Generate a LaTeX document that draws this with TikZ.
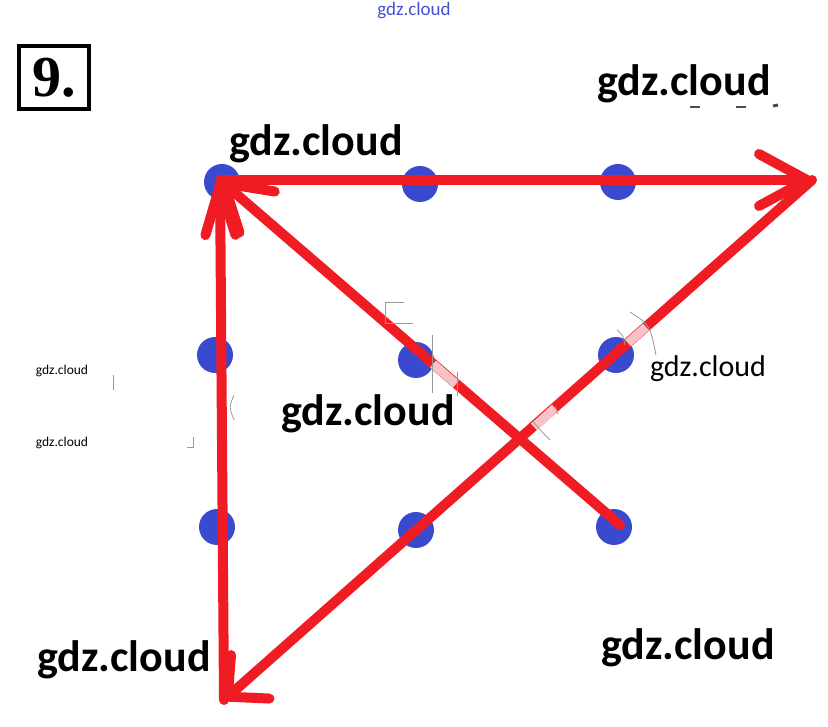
\documentclass[tikz,border=0pt]{standalone}
\usepackage{fontspec}
\newfontfamily\gdzfont{Carlito}
\newfontfamily\numfont{Liberation Serif}
\usetikzlibrary{arrows.meta}
\definecolor{pen}{RGB}{240,28,36}
\definecolor{palepen}{RGB}{246,196,200}
\definecolor{dotblue}{RGB}{58,74,206}
\definecolor{wmblue}{RGB}{70,80,210}
\tikzset{
  dot/.style={circle,fill=dotblue,draw=none,minimum size=36pt,inner sep=0pt},
  stroke/.style={draw=pen,line width=10pt,line cap=round,line join=round},
  barbR/.style={-{Straight Barb[length=48pt,width=52pt,round]}},
  barbBL/.style={-{Straight Barb[length=30pt,width=58pt,round]}},
  barbD/.style={-{Straight Barb[length=44pt,width=54pt,round]}},
  barbV/.style={-{Straight Barb[length=50pt,width=30pt,round]}},
  pale/.style={draw=palepen,line width=9pt},
  junk/.style={draw=gray!80,line width=0.8pt},
  speck/.style={draw=black!70,line width=1.5pt},
  bigmark/.style={font=\gdzfont\bfseries\fontsize{44}{48}\selectfont,inner sep=0pt},
  midmark/.style={font=\gdzfont\fontsize{30}{34}\selectfont,inner sep=0pt},
  smallmark/.style={font=\gdzfont\fontsize{13.5}{15}\selectfont,inner sep=0pt},
}
\begin{document}
\begin{tikzpicture}[x=1pt,y=-1pt]
\useasboundingbox[fill=white] (0,0) rectangle (828,727);
% number box
\node[draw,line width=4pt,minimum width=70pt,minimum height=63pt,inner sep=0pt,
      font=\numfont\bfseries\fontsize{58}{58}\selectfont] (num) at (54,78) {9.};
% dots
\node[dot] (d11) at (222,182) {};
\node[dot] (d12) at (420,184) {};
\node[dot] (d13) at (618,182) {};
\node[dot] (d21) at (215,355) {};
\node[dot] (d22) at (416,360) {};
\node[dot] (d23) at (616,355) {};
\node[dot] (d31) at (217,527) {};
\node[dot] (d32) at (416,530) {};
\node[dot] (d33) at (614,527) {};
% corner points
\coordinate (tl) at (220,180);
\coordinate (tr) at (812,180);
\coordinate (bl) at (224,700);
\coordinate (start) at (620,525);
% the four strokes
\draw[stroke,barbD] (start) -- (tl);
\draw[stroke,barbR] (tl) -- (tr);
\draw[stroke,barbBL] (tr) -- (bl);
\draw[stroke,barbV] (bl) -- (tl);
% pale segments
\coordinate (p1a) at (433,364);
\coordinate (p1b) at (456,384);
\draw[pale] (p1a) -- (p1b);
\coordinate (p2a) at (534,427);
\coordinate (p2b) at (555,408);
\draw[pale] (p2a) -- (p2b);
\coordinate (p3a) at (628,343);
\coordinate (p3b) at (646,327);
\draw[pale] (p3a) -- (p3b);
% stray marks
\draw[junk] (404,302) -- (385,302) -- (385,323) -- (413,323);
\draw[junk] (432,335) -- (432,393);
\draw[junk] (457,372) -- (457,396);
\draw[junk] (630,312) .. controls (650,325) .. (656,355);
\draw[junk] (617,330) .. controls (623,335) .. (625,345);
\draw[junk] (532,420) .. controls (540,430) .. (550,440);
\draw[junk] (555,407) -- (558,414);
\draw[junk] (113,375) -- (113,390);
\draw[junk] (234,395) .. controls (229,407) .. (234,420);
\draw[junk] (187,447) -- (193,447) -- (193,437);
\draw[speck] (690,107) -- (700,107);
\draw[speck] (736,107) -- (746,107);
\draw[speck,line width=3pt] (773,106) -- (778,105);
% watermarks
\node[font=\gdzfont\fontsize{19}{20}\selectfont,text=wmblue,inner sep=0pt] (w0) at (414,11) {gdz.cloud};
\node[bigmark] (w1) at (684,84) {gdz.cloud};
\node[bigmark] (w2) at (316,144) {gdz.cloud};
\node[bigmark] (w3) at (368,414) {gdz.cloud};
\node[bigmark] (w4) at (124,660) {gdz.cloud};
\node[bigmark] (w5) at (688,648) {gdz.cloud};
\node[midmark] (w6) at (708,369) {gdz.cloud};
\node[smallmark] (w7) at (62,371) {gdz.cloud};
\node[smallmark] (w8) at (62,443) {gdz.cloud};
\end{tikzpicture}
\end{document}
